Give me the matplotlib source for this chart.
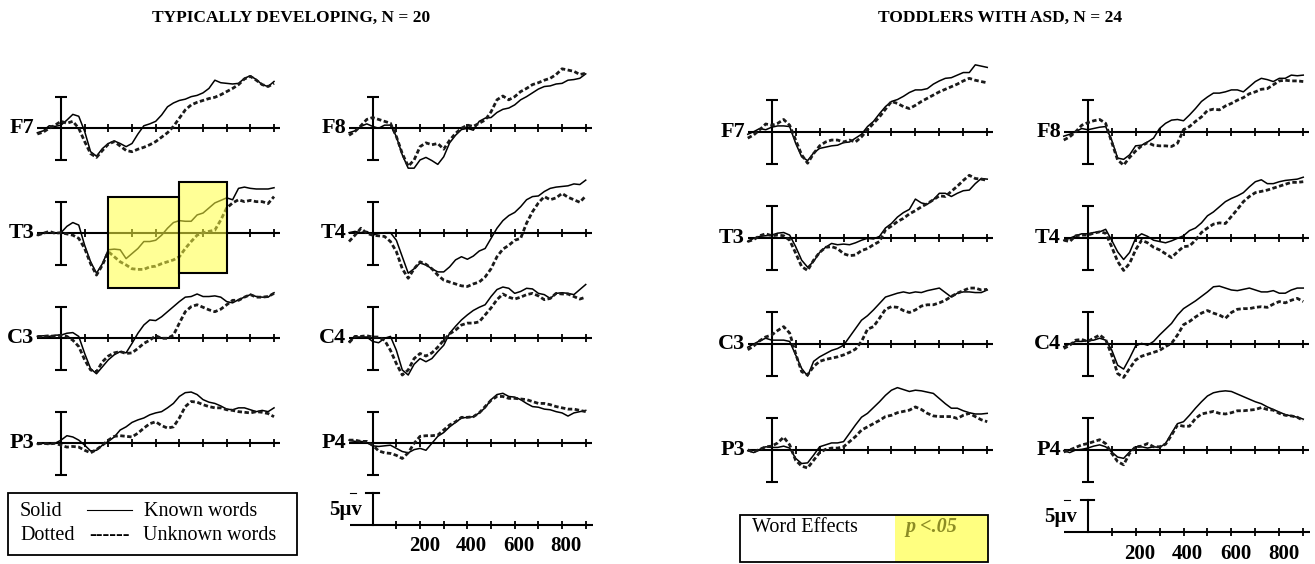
import numpy as np
import matplotlib.pyplot as plt
from matplotlib.patches import Rectangle

W, H = 1315, 564

# time axis of the averaged waveforms (ms)
ms = np.arange(-100, 901, 25)
tick_ms = np.arange(100, 901, 100)
label_ms = [200, 400, 600, 800]

# ---- typically developing (N = 20), amplitudes in microvolts ----
td_f7_known = [-0.7,-0.4,0.4,0.3,0.5,1.3,2.2,1.9,-0.5,-3.7,-4.4,-3.2,-2.4,-2.0,-2.4,-2.9,-2.4,-0.9,0.4,0.7,1.1,2.1,3.4,4.0,4.4,4.6,5.0,5.2,5.6,6.3,7.6,7.2,7.1,7.0,7.1,7.9,8.3,7.7,6.9,6.6,7.4]
td_f7_unknown = [-0.9,-0.6,0.0,0.5,1.1,0.8,1.1,0.0,-2.1,-4.0,-4.6,-3.5,-2.5,-2.1,-2.8,-3.5,-3.7,-3.3,-3.0,-2.6,-2.1,-1.4,-0.7,0.3,1.6,2.9,3.7,4.1,4.4,4.7,4.9,5.3,5.8,6.3,6.9,7.8,8.2,7.6,6.9,6.6,7.1]
td_t3_known = [-0.3,0.0,0.1,0.0,0.1,1.1,1.7,1.3,-1.9,-4.5,-6.3,-4.8,-2.6,-2.5,-2.6,-4.0,-3.2,-2.4,-1.3,-1.3,-1.1,-0.3,0.8,1.7,2.0,1.9,1.9,2.9,3.2,4.0,4.8,5.2,5.6,5.3,7.1,7.3,7.1,7.0,7.0,7.0,7.2]
td_t3_unknown = [-0.3,0.0,0.3,0.0,0.1,-0.1,-0.3,-0.8,-2.4,-4.8,-6.6,-5.0,-2.9,-3.7,-4.5,-5.0,-5.6,-5.7,-5.7,-5.3,-5.2,-4.8,-4.5,-4.2,-3.7,-2.4,-1.3,-0.3,0.1,0.3,0.5,2.1,4.0,4.8,5.3,5.0,5.2,5.0,5.0,4.7,5.8]
td_c3_known = [0.3,0.4,0.3,0.5,0.5,0.8,0.9,0.3,-2.4,-4.8,-5.6,-4.5,-3.4,-2.6,-2.1,-2.3,-0.8,0.8,2.1,2.9,2.8,3.4,4.2,5.0,5.8,6.5,6.6,7.0,6.6,6.6,6.7,6.5,5.8,5.6,6.1,6.5,6.9,6.6,6.5,6.5,7.2]
td_c3_unknown = [0.3,0.3,0.4,0.3,0.5,0.3,-0.3,-1.3,-3.4,-5.0,-5.3,-3.7,-2.8,-2.3,-2.1,-2.4,-2.3,-1.6,-0.8,-0.3,0.4,0.0,0.0,0.5,2.4,4.2,5.0,5.3,4.9,4.5,4.2,4.6,5.3,6.0,6.0,6.5,6.9,6.5,6.5,6.6,7.1]
td_p3_known = [-0.1,0.0,-0.1,0.0,0.5,1.2,1.0,0.5,-0.3,-1.2,-1.1,-0.3,0.3,1.0,2.1,2.6,3.3,3.7,4.0,4.5,4.8,5.0,5.6,6.3,7.4,8.0,8.1,7.7,6.9,6.5,6.3,5.9,5.4,5.3,5.6,5.6,5.3,5.0,5.2,5.0,5.6]
td_p3_unknown = [-0.1,0.0,-0.1,0.0,-0.3,-0.6,-0.5,-0.6,-1.1,-1.5,-1.0,-0.3,0.5,1.1,1.2,1.1,1.0,1.6,2.4,3.1,3.4,2.8,2.4,2.6,4.0,5.8,6.6,6.5,6.1,5.8,5.6,5.6,5.3,5.2,5.0,4.9,4.8,5.0,4.9,4.7,4.2]
td_f8_known = [-0.7,-0.4,0.3,0.7,0.3,0.0,0.5,0.5,-1.3,-4.2,-6.3,-6.3,-5.0,-4.6,-5.1,-5.7,-4.5,-2.3,-1.1,-0.2,0.0,-0.3,1.1,1.6,1.7,2.5,3.0,3.2,3.7,4.5,5.0,5.6,6.2,6.6,6.7,7.0,7.1,7.6,7.7,7.9,8.6]
td_f8_unknown = [-1.1,-0.5,0.4,1.4,1.7,1.4,1.1,0.8,-1.3,-4.0,-6.0,-5.0,-2.9,-2.3,-2.6,-2.4,-3.3,-1.9,-0.8,0.0,0.5,0.3,0.8,1.3,2.6,4.5,5.1,4.5,5.0,5.8,6.3,6.9,7.2,7.6,7.9,8.5,9.4,9.2,9.0,8.5,8.7]
td_t4_known = [0.1,0.3,0.1,0.3,-0.3,0.0,0.1,0.1,-1.1,-3.7,-6.3,-5.6,-4.7,-5.0,-5.6,-6.1,-6.1,-5.3,-4.2,-3.7,-4.1,-3.6,-2.8,-2.4,-0.8,0.8,2.0,2.8,3.3,4.2,5.3,5.8,5.9,6.6,7.1,7.3,7.4,7.5,7.8,7.7,8.4]
td_t4_unknown = [-1.3,-0.3,0.8,0.0,-0.3,-0.4,-0.5,-1.3,-2.9,-5.6,-7.1,-5.6,-4.5,-4.9,-5.6,-6.6,-7.4,-7.7,-8.0,-8.3,-8.4,-8.0,-7.7,-6.9,-5.6,-3.7,-2.5,-1.9,-1.1,-0.8,1.6,3.4,4.8,5.8,5.3,5.6,6.3,5.7,5.3,4.9,5.9]
td_c4_known = [-0.5,0.2,0.2,0.2,-0.5,-0.7,0.0,0.3,-1.9,-5.0,-5.8,-4.1,-3.2,-3.7,-3.2,-2.1,-1.1,0.8,1.9,2.9,3.7,4.4,4.9,5.3,6.6,7.7,8.1,7.9,7.1,7.4,7.9,7.8,7.1,6.9,6.3,7.1,7.2,7.1,6.9,7.7,8.5]
td_c4_unknown = [-0.7,0.3,0.3,0.4,0.2,0.2,-0.3,-1.9,-4.0,-5.8,-5.0,-3.2,-2.4,-2.8,-2.3,-1.4,-0.3,0.7,1.3,2.1,2.4,2.4,2.6,3.7,4.8,6.1,7.0,6.5,6.2,6.5,6.9,7.1,6.7,6.1,6.3,7.1,7.0,7.0,6.6,6.2,6.5]
td_p4_known = [0.5,0.3,0.3,0.1,-0.4,-0.5,-0.4,-0.3,-0.8,-1.3,-1.5,-1.0,-0.8,-1.1,0.0,1.1,1.7,2.6,3.3,4.0,4.1,4.2,4.8,5.6,6.9,7.7,7.9,7.4,7.3,6.9,6.3,5.8,5.7,5.4,5.3,5.0,4.8,4.3,4.8,5.0,5.2]
td_p4_unknown = [0.5,0.5,0.3,0.3,-0.3,-1.2,-1.5,-1.6,-1.9,-2.4,-1.5,0.0,1.1,1.2,1.2,1.3,2.1,2.9,3.4,4.1,4.1,4.2,4.8,5.8,6.8,7.4,7.4,7.1,7.1,7.0,6.9,6.6,6.3,6.3,6.1,5.8,5.6,5.4,5.4,5.2,5.0]

# ---- toddlers with ASD (N = 24) ----
asd_f7_known = [-0.4,0.0,0.5,0.3,0.7,0.9,0.9,0.8,-1.8,-3.9,-4.5,-3.3,-2.6,-2.4,-2.2,-2.1,-1.7,-1.6,-1.0,-0.4,0.8,1.6,2.8,3.9,4.7,5.0,5.5,6.1,6.5,6.5,6.7,7.4,7.9,8.3,8.4,8.8,9.2,9.2,10.4,10.2,10.0]
asd_f7_unknown = [-1.0,-0.5,0.3,1.2,1.0,1.3,1.9,1.0,-1.3,-3.6,-4.9,-3.4,-2.2,-1.6,-1.3,-1.3,-1.6,-1.3,-1.6,-0.8,0.3,1.3,2.3,3.5,4.7,4.4,3.9,3.6,4.1,4.7,5.2,5.7,6.2,6.6,7.0,7.4,7.9,8.3,8.0,7.8,7.6]
asd_t3_known = [-0.5,0.0,0.3,0.4,0.5,0.8,0.9,0.5,-1.3,-3.4,-4.5,-3.6,-2.2,-1.4,-0.8,-1.0,-0.9,-1.0,-0.7,-0.3,0.0,-0.1,0.3,1.6,2.3,3.3,4.0,4.5,6.1,5.5,5.3,6.0,7.0,7.0,6.5,7.0,7.4,7.5,8.5,9.3,9.2]
asd_t3_unknown = [-0.5,-0.2,0.4,0.7,0.4,0.5,0.4,-0.3,-2.3,-4.4,-5.0,-3.4,-2.2,-1.4,-1.3,-1.6,-2.4,-2.7,-2.6,-1.9,-1.6,-1.0,-0.5,1.3,1.9,2.6,3.1,3.8,4.3,4.9,5.4,6.0,6.6,6.5,7.3,8.1,9.0,9.8,9.3,9.2,9.0]
asd_c3_known = [-0.5,0.0,0.5,0.9,0.6,0.6,0.6,0.4,-1.7,-3.8,-5.0,-2.7,-2.0,-1.5,-1.0,-0.7,-0.2,1.1,2.4,3.7,4.4,5.3,6.3,7.3,7.6,7.9,8.1,7.9,8.1,8.0,8.3,8.5,8.7,8.0,7.3,7.9,8.1,8.1,8.0,8.0,8.4]
asd_c3_unknown = [-0.9,-0.3,0.5,1.1,1.4,2.1,2.7,1.7,-1.5,-4.3,-4.8,-3.5,-2.7,-2.4,-2.2,-2.0,-1.7,-1.3,-0.8,0.4,2.3,2.7,4.0,5.4,5.8,5.7,5.2,4.9,5.3,5.9,6.1,6.1,6.4,6.8,7.4,7.9,8.3,8.7,8.7,8.4,8.5]
asd_p3_known = [-0.1,-0.4,0.1,0.5,0.4,0.4,0.6,0.3,-1.3,-2.1,-2.0,-0.8,0.5,0.8,1.1,1.1,1.3,2.6,3.9,5.1,5.7,6.6,7.5,8.5,9.3,9.7,9.4,9.1,9.3,9.2,9.0,8.8,8.0,7.2,6.5,6.5,6.1,5.8,5.6,5.6,5.7]
asd_p3_unknown = [0.0,-0.3,0.1,0.5,0.6,1.1,2.0,0.8,-1.6,-2.5,-2.8,-1.6,-0.4,0.1,0.3,0.3,0.5,1.3,2.1,3.1,3.6,4.1,4.6,5.2,5.4,5.8,6.0,6.2,6.7,6.3,5.7,5.3,5.2,5.2,5.2,4.9,5.4,5.7,5.2,4.7,4.4]
asd_f8_known = [-0.7,-0.4,0.0,0.5,0.3,0.5,0.7,0.8,-1.3,-4.1,-4.3,-3.6,-2.2,-2.1,-1.6,-1.0,0.5,1.3,1.8,1.9,1.7,2.6,3.6,4.7,5.4,6.0,6.0,6.2,6.5,6.5,6.2,7.0,7.8,8.3,8.1,7.8,8.3,8.3,8.8,8.7,8.8]
asd_f8_unknown = [-1.3,-0.8,0.0,1.0,1.4,1.7,1.9,1.3,-1.6,-4.4,-5.2,-4.0,-3.0,-2.2,-1.7,-2.1,-2.2,-2.2,-2.3,-1.8,0.3,0.8,1.6,2.3,3.3,3.5,3.4,4.0,4.4,4.9,5.3,5.9,6.2,6.6,6.7,7.3,7.9,8.0,7.9,7.9,7.8]
asd_t4_known = [-0.3,0.0,0.4,0.7,0.7,0.9,1.0,1.4,-0.3,-2.1,-3.3,-2.2,0.0,0.7,0.3,-0.3,-0.5,-0.7,-0.4,0.0,0.4,1.2,1.6,2.4,3.5,4.1,4.9,5.7,6.2,6.6,7.1,8.0,8.8,9.1,8.5,8.5,8.8,9.0,9.1,9.2,9.5]
asd_t4_unknown = [-0.3,-0.5,0.4,0.5,0.5,0.8,1.0,0.8,-1.3,-3.6,-5.0,-3.9,-1.8,-0.3,-0.7,-1.4,-1.8,-2.4,-3.0,-2.1,-1.3,-1.2,-0.3,0.9,1.6,2.2,2.4,2.3,3.4,4.5,5.7,6.5,7.1,7.3,7.5,7.8,8.1,8.4,8.7,8.7,8.8]
asd_c4_known = [-0.4,0.0,0.4,0.4,0.5,0.6,0.9,0.6,-0.9,-3.3,-3.9,-2.2,-0.3,0.1,-0.2,0.4,1.4,2.3,3.2,4.5,5.5,6.1,6.7,7.4,8.1,8.9,9.0,8.7,8.4,8.3,8.5,8.7,8.4,8.1,8.1,8.3,7.9,7.9,8.4,8.7,8.7]
asd_c4_unknown = [-0.7,-0.2,0.6,0.7,0.4,0.9,1.4,0.7,-1.7,-4.6,-5.2,-3.8,-2.5,-1.9,-1.6,-1.3,-1.0,-0.4,0.1,1.4,3.0,3.5,4.2,4.8,5.2,4.8,4.5,4.0,4.9,5.4,5.5,5.5,5.7,5.8,5.7,6.2,6.6,6.4,6.8,7.1,6.6]
asd_p4_known = [-0.1,-0.4,0.0,0.1,0.3,0.6,0.8,0.5,-0.3,-1.1,-1.3,-0.3,0.5,0.5,0.3,0.5,0.4,1.0,2.6,4.1,4.4,5.4,6.5,7.5,8.4,8.9,9.1,9.2,9.1,8.7,8.3,7.9,7.5,7.2,6.7,6.3,5.9,5.5,5.3,5.1,4.8]
asd_p4_unknown = [-0.3,0.0,0.4,0.8,1.0,1.3,1.6,1.0,-0.5,-1.8,-2.3,-0.5,0.5,0.6,1.0,0.5,0.5,0.9,2.3,3.9,3.7,3.7,4.9,5.6,5.8,6.0,5.7,5.6,5.8,6.1,6.1,6.2,6.3,6.6,6.3,6.2,5.7,5.4,5.3,5.1,4.6]

# significant word-effect windows at T3 (typically developing)
windows = [(200, 500, -8.7, 5.8), (500, 700, -6.3, 8.1)]

SERIF = 'Liberation Serif'

fig = plt.figure(figsize=(W / 100, H / 100), dpi=100)
fig.patch.set_facecolor('white')

ov = fig.add_axes([0, 0, 1, 1])
ov.set_xlim(0, W); ov.set_ylim(H, 0); ov.axis('off')


def panel(x0, y0, sx, sy):
    # x0, y0: pixel of (0 ms, 0 uV); sx px per ms; sy px per uV
    lo, hi, ylo, yhi = -150, 960, -10.5, 10.5
    left = x0 + lo * sx
    top = y0 - yhi * sy
    ax = fig.add_axes([left / W, 1 - (top + (yhi - ylo) * sy) / H,
                       (hi - lo) * sx / W, (yhi - ylo) * sy / H])
    ax.set_xlim(lo, hi); ax.set_ylim(ylo, yhi)
    ax.axis('off')
    return ax


def draw_channel(ax, name, known, unknown):
    ax.plot([-100, 925], [0, 0], color='k', lw=1.5, solid_capstyle='butt')
    ax.plot(tick_ms, np.zeros(len(tick_ms)), ls='none', marker='|',
            ms=6, mew=1.3, color='k')
    ax.errorbar([0], [0], yerr=5, fmt='none', ecolor='k', elinewidth=1.5,
                capsize=4.5, capthick=1.5)
    ax.plot(ms, known, color='k', lw=1.1)
    ax.plot(ms, unknown, color='#1a1a1a', lw=2.0, ls=(0, (1.6, 0.9)))
    ax.text(-112, 0, name, ha='right', va='center', fontsize=16,
            fontweight='bold', family=SERIF)


def draw_scale(ax):
    ax.plot([-97, 930], [0, 0], color='k', lw=1.5, solid_capstyle='butt')
    ax.plot(tick_ms, np.zeros(len(tick_ms)), ls='none', marker='|',
            ms=6, mew=1.3, color='k')
    ax.plot([0, 0], [0, 5], color='k', lw=1.5)
    ax.plot([-28, 28], [5, 5], color='k', lw=1.5)
    ax.plot([-97, -72], [5, 5], color='k', lw=0.8)
    ax.text(-45, 2.4, '5\u00b5v', ha='right', va='center', fontsize=15,
            fontweight='bold', family=SERIF)
    for t in label_ms:
        ax.text(t + 18, -3.3, str(t), ha='center', va='center', fontsize=15,
                fontweight='bold', family=SERIF)


groups = [
    # (t0 px of left column, t0 px of right column, baselines, sx, sy, data)
    (61.0, 372.7, [128.3, 233.3, 338.3, 443.3], 525.0, 0.2367, 6.33,
     [('F7', td_f7_known, td_f7_unknown), ('T3', td_t3_known, td_t3_unknown),
      ('C3', td_c3_known, td_c3_unknown), ('P3', td_p3_known, td_p3_unknown)],
     [('F8', td_f8_known, td_f8_unknown), ('T4', td_t4_known, td_t4_unknown),
      ('C4', td_c4_known, td_c4_unknown), ('P4', td_p4_known, td_p4_unknown)]),
    (771.7, 1087.7, [131.7, 238.3, 344.0, 450.0], 532.3, 0.2395, 6.43,
     [('F7', asd_f7_known, asd_f7_unknown), ('T3', asd_t3_known, asd_t3_unknown),
      ('C3', asd_c3_known, asd_c3_unknown), ('P3', asd_p3_known, asd_p3_unknown)],
     [('F8', asd_f8_known, asd_f8_unknown), ('T4', asd_t4_known, asd_t4_unknown),
      ('C4', asd_c4_known, asd_c4_unknown), ('P4', asd_p4_known, asd_p4_unknown)]),
]

for gi, (xa, xb, rows, yscale, sx, sy, left_ch, right_ch) in enumerate(groups):
    for y0, (name, kn, un) in zip(rows, left_ch):
        ax = panel(xa, y0, sx, sy)
        draw_channel(ax, name, kn, un)
        if gi == 0 and name == 'T3':
            for t1, t2, v1, v2 in windows:
                ax.add_patch(Rectangle((t1, v1), t2 - t1, v2 - v1,
                                       facecolor=(1, 1, 0.25, 0.55),
                                       edgecolor='k', lw=1.5, zorder=5))
    for y0, (name, kn, un) in zip(rows, right_ch):
        ax = panel(xb, y0, sx, sy)
        draw_channel(ax, name, kn, un)
    draw_scale(panel(xb, yscale, sx, sy))

# titles
ov.text(291, 18, 'TYPICALLY DEVELOPING, N = 20', ha='center', va='center',
        fontsize=12.5, fontweight='bold', family=SERIF)
ov.text(1000, 18, 'TODDLERS WITH ASD, N = 24', ha='center', va='center',
        fontsize=12.5, fontweight='bold', family=SERIF)

# legend (left)
ov.add_patch(Rectangle((8, 493), 289, 62, facecolor='none', edgecolor='k', lw=1.3))
ov.text(20, 511, 'Solid', ha='left', va='center', fontsize=14.5, family=SERIF)
ov.plot([87, 132], [510, 510], color='k', lw=0.8)
ov.text(144, 511, 'Known words', ha='left', va='center', fontsize=14.5, family=SERIF)
ov.text(20, 535, 'Dotted', ha='left', va='center', fontsize=14.5, family=SERIF)
ov.text(89, 535, '------', ha='left', va='center', fontsize=14.5, family=SERIF)
ov.text(143, 535, 'Unknown words', ha='left', va='center', fontsize=14.5, family=SERIF)

# legend (right)
ov.add_patch(Rectangle((895, 515), 93, 47, facecolor='#ffff80', edgecolor='none'))
ov.add_patch(Rectangle((740, 515), 248, 47, facecolor='none', edgecolor='k', lw=1.3))
ov.text(752, 527, 'Word Effects', ha='left', va='center', fontsize=14.5, family=SERIF)
ov.text(905, 527, 'p <.05', ha='left', va='center', fontsize=14.5,
        fontweight='bold', fontstyle='italic', color='#8c8c24', family=SERIF)

fig.savefig('out.png', dpi=100, facecolor='white')
